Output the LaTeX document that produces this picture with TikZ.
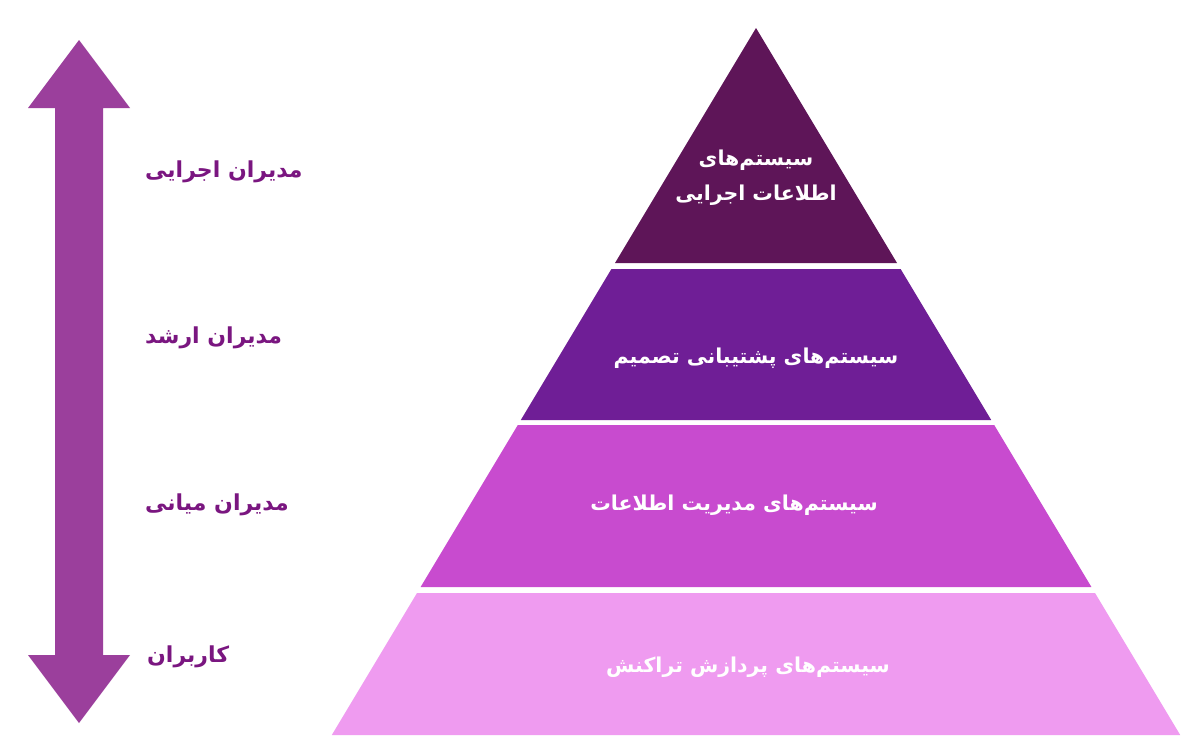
\documentclass[tikz,border=0pt]{standalone}
\usepackage{fontspec}
\TeXXeTstate=1
\newfontfamily\arabicfont[Script=Arabic]{DejaVu Sans}
\usetikzlibrary{positioning}
\definecolor{lvlexec}{HTML}{5E1558}
\definecolor{lvldss}{HTML}{6F1E96}
\definecolor{lvlmis}{HTML}{C84BCF}
\definecolor{lvltps}{HTML}{EF9BF0}
\definecolor{arrowpurple}{HTML}{9B3F9C}
\definecolor{labelpurple}{HTML}{7A1680}
\tikzset{
  py text/.style={text=white, align=center, inner sep=1pt,
                  font=\arabicfont\bfseries\fontsize{20.5}{35}\selectfont},
  py role/.style={text=labelpurple, anchor=west, inner sep=0pt,
                  font=\arabicfont\bfseries\fontsize{22}{26}\selectfont},
}
\begin{document}
\begin{tikzpicture}[x=1pt, y=-1pt]
  \useasboundingbox (0,0) rectangle (1200,744);
  \fill[white] (0,0) rectangle (1200,744);
  % double arrow on the left
  \fill[arrowpurple] (79,40) -- (130,108) -- (103,108) -- (103,655) -- (130,655) -- (79,723)
    -- (28,655) -- (55,655) -- (55,108) -- (28,108) -- cycle;
  % pyramid layers: apex (756,28), sides with slope 0.6
  \fill[lvlexec] (756,28) -- (897,263) -- (615,263) -- cycle;
  \foreach \ya/\yb/\col in {269/420/lvldss, 425/587/lvlmis, 593/735/lvltps}
    \fill[\col] ({756-0.6*(\ya-28)},\ya) -- ({756+0.6*(\ya-28)},\ya)
      -- ({756+0.6*(\yb-28)},\yb) -- ({756-0.6*(\yb-28)},\yb) -- cycle;
  \node[py text] (exec) at (756,178) {\beginR سیستم‌های\endR\\\beginR اطلاعات اجرایی\endR};
  \node[py text] (dss) at (756,358) {\beginR سیستم‌های پشتیبانی تصمیم\endR};
  \node[py text] (mis) at (734,505) {\beginR سیستم‌های مدیریت اطلاعات\endR};
  \node[py text] (tps) at (748,667) {\beginR سیستم‌های پردازش تراکنش\endR};
  % roles
  \node[py role] (rexec) at (145,172) {\beginR مدیران اجرایی\endR};
  \node[py role] (rsenior) at (145,338) {\beginR مدیران ارشد\endR};
  \node[py role] (rmiddle) at (145,505) {\beginR مدیران میانی\endR};
  \node[py role] (rusers) at (147,657) {\beginR کاربران\endR};
\end{tikzpicture}
\end{document}
